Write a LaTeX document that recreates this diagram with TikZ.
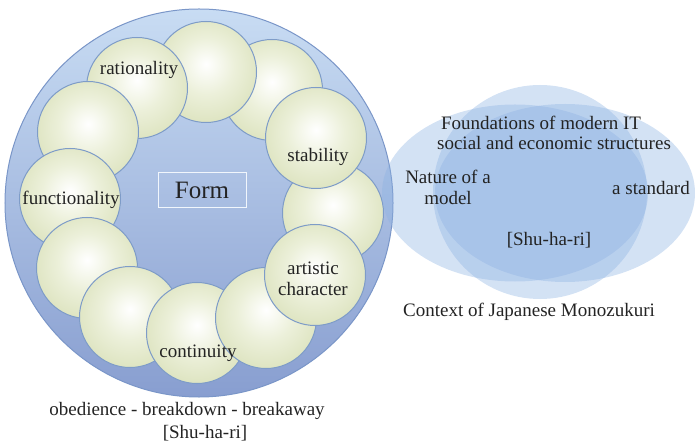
\documentclass[tikz,border=0pt]{standalone}
\usepackage{fontspec}
\setmainfont{Liberation Serif}
\usepackage{tikz}
\usetikzlibrary{shapes.geometric}

\definecolor{ringtop}{RGB}{200,220,243}
\definecolor{ringbot}{RGB}{136,158,208}
\definecolor{ringline}{RGB}{122,150,200}
\definecolor{ballmid}{RGB}{236,240,218}
\definecolor{ballgreen}{RGB}{212,220,176}
\definecolor{ballline}{RGB}{126,156,200}
\definecolor{venn}{RGB}{140,178,226}
\definecolor{ink}{RGB}{35,35,35}

\pgfdeclareradialshading{ballshade}{\pgfpoint{0bp}{4bp}}{color(0bp)=(white); color(14bp)=(ballmid); color(36bp)=(ballgreen); color(50bp)=(ballgreen)}

\begin{document}
\begin{tikzpicture}[x=1bp,y=-1bp,
    every node/.style={font=\fontsize{19bp}{21bp}\selectfont, text=ink, align=center},
    ring/.style={circle, minimum size=388bp, inner sep=0pt, draw=ringline, line width=1bp, top color=ringtop, bottom color=ringbot},
    ball/.style={circle, minimum size=101bp, inner sep=0pt, draw=ballline, line width=1bp, shading=ballshade},
    lens/.style={ellipse, inner sep=0pt, fill=venn, fill opacity=0.38, draw=none},
    formbox/.style={draw=white!75!ringtop, line width=0.8bp, minimum width=88bp, minimum height=35bp, font=\fontsize{25bp}{27bp}\selectfont}]
  \useasboundingbox (0,0) rectangle (695,443);

  % big circle and its twelve balls
  \node[ring] (R) at (199,203) {};
  \node[ball] (b2)  at (272,90)  {};
  \node[ball] (b4)  at (333,213) {};
  \node[ball] (b3)  at (316,138) {};
  \node[ball] (b1)  at (206,72)  {};
  \node[ball] (b12) at (137,88)  {};
  \node[ball] (b11) at (88,132)  {};
  \node[ball] (b10) at (70,199)  {};
  \node[ball] (b9)  at (87,268)  {};
  \node[ball] (b8)  at (130,317) {};
  \node[ball] (b7)  at (197,333) {};
  \node[ball] (b6)  at (266,318) {};
  \node[ball] (b5)  at (315,275) {};

  \node (rat)  at (139,70)  {rationality};
  \node (stab) at (318,157) {stability};
  \node (func) at (71,200)  {functionality};
  \node (art)  at (313,279) {artistic\\character};
  \node (cont) at (198,353) {continuity};
  \node[formbox] (form) at (202,190) {Form};

  \node (obd) at (187,411) {obedience - breakdown - breakaway};
  \node (shr) at (205,433) {[Shu-ha-ri]};

  % venn on the right
  \node[lens, minimum width=266bp, minimum height=177bp] (L) at (515,193) {};
  \node[lens, minimum width=214bp, minimum height=214bp] (M) at (540,192) {};
  \node[lens, minimum width=260bp, minimum height=178bp] (Rt) at (565,193) {};

  \node (found) at (541,123) {Foundations of modern IT};
  \node (soc)   at (554,143) {social and economic structures};
  \node (nat)   at (448,187) {Nature of a\\model};
  \node (std)   at (651,188) {a standard};
  \node (shr2)  at (549,240) {[Shu-ha-ri]};
  \node (ctx)   at (529,312) {Context of Japanese Monozukuri};
\end{tikzpicture}
\end{document}
